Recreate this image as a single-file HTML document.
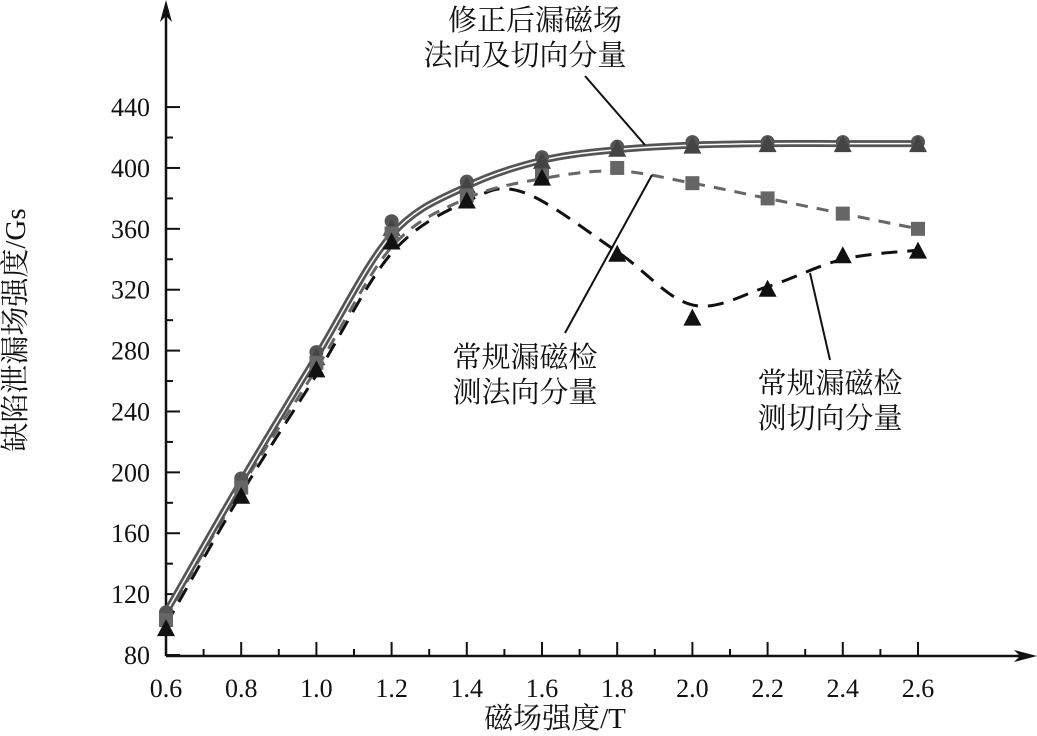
<!DOCTYPE html>
<html><head><meta charset="utf-8"><style>
html,body{margin:0;padding:0;background:#fff;}
svg{display:block;font-family:"Liberation Serif","Noto Serif CJK SC",serif;}
</style></head><body>
<svg id="s" width="1037" height="736" viewBox="0 0 1037 736">
<g stroke="#111" stroke-width="2.5" fill="none">
<line x1="166" y1="656" x2="166" y2="8"/>
<line x1="166" y1="656" x2="1028" y2="656"/>
</g>
<polygon points="166,0 160,22 166,16 172,22" fill="#111"/>
<polygon points="1037,656 1014,650 1020,656 1014,662" fill="#111"/>
<g id="ticks" stroke="#111" stroke-width="2"></g>
<g font-size="26" fill="#111" text-anchor="end" id="ylab"></g>
<g font-size="26" fill="#111" text-anchor="middle" id="xlab"></g>
<g id="series"></g>
<g stroke="#111" stroke-width="2">
<line x1="585" y1="76" x2="645" y2="145"/>
<line x1="565" y1="333" x2="652" y2="175"/>
<line x1="830" y1="360" x2="810" y2="273"/>
</g>
<g font-size="29" fill="#111" text-anchor="middle">
<text x="535" y="30">修正后漏磁场</text>
<text x="525" y="65">法向及切向分量</text>
<text x="525" y="367">常规漏磁检</text>
<text x="525" y="402">测法向分量</text>
<text x="830" y="393">常规漏磁检</text>
<text x="830" y="428">测切向分量</text>
<text x="555" y="728">磁场强度/T</text>
<text transform="translate(25,330) rotate(-90)">缺陷泄漏场强度/Gs</text>
</g>
</svg>
<script>
const NS="http://www.w3.org/2000/svg";
const X=x=>166+(x-0.6)/0.2*75.2, Y=y=>655-(y-80)*1.522;
function el(p,t,a,txt){const e=document.createElementNS(NS,t);for(const k in a)e.setAttribute(k,a[k]);if(txt)e.textContent=txt;document.getElementById(p).appendChild(e);return e;}
for(let v=80;v<=440;v+=20){const y=Y(v);el("ticks","line",{x1:166,y1:y,x2:v%40==0?180:173,y2:y});if(v%40==0)el("ylab","text",{x:150,y:y+9},String(v));}
for(let i=0;i<=20;i++){const xv=0.6+i*0.1,x=X(xv);if(i>0)el("ticks","line",{x1:x,y1:656,x2:x,y2:i%2==0?642:649});if(i%2==0)el("xlab","text",{x:x,y:697},xv.toFixed(1));}
function path(pts){const P=pts.map(p=>[X(p[0]),Y(p[1])]);let d="M"+P[0];for(let i=0;i<P.length-1;i++){const p0=P[i-1]||P[i],p1=P[i],p2=P[i+1],p3=P[i+2]||p2;const c1=[p1[0]+(p2[0]-p0[0])/6,p1[1]+(p2[1]-p0[1])/6],c2=[p2[0]-(p3[0]-p1[0])/6,p2[1]-(p3[1]-p1[1])/6];d+=" C"+c1+" "+c2+" "+p2;}return d;}
const g="series";
el(g,"path",{d:path([[0.6,100],[0.8,186],[1.0,264],[1.2,344],[1.4,378],[1.55,384],[1.8,345],[2.0,310],[2.2,322],[2.4,340],[2.6,346]]),stroke:"#111","stroke-width":3,fill:"none","stroke-dasharray":"16 10"});
el(g,"path",{d:path([[0.6,104],[0.8,190],[1.0,268],[1.2,348],[1.4,380],[1.6,393],[1.8,398],[2.0,390],[2.2,380],[2.4,370],[2.6,360]]),stroke:"#666","stroke-width":3,fill:"none","stroke-dasharray":"12 9"});
const sol=[[0.6,108],[0.8,194],[1.0,276],[1.2,356],[1.4,388],[1.6,405],[1.8,412],[2.0,415],[2.2,416],[2.4,416],[2.6,416]];
el(g,"path",{d:path(sol),stroke:"#555","stroke-width":7,fill:"none"});
el(g,"path",{d:path(sol),stroke:"#fff","stroke-width":1.5,fill:"none"});
const circ=[[0.6,108],[0.8,196],[1.0,279],[1.2,365],[1.4,391],[1.6,407],[1.8,414],[2.0,417],[2.2,417],[2.4,417],[2.6,417]];
circ.forEach(p=>el(g,"circle",{cx:X(p[0]),cy:Y(p[1]),r:7,fill:"#555"}));
const tri=(x,y,c)=>el(g,"polygon",{points:`${x},${y-10} ${x-9},${y+7} ${x+9},${y+7}`,fill:c});
[[1.6,404],[1.8,412],[2.0,414],[2.2,415],[2.4,415],[2.6,415],[1.4,388],[1.2,360],[1.0,275]].forEach(p=>tri(X(p[0]),Y(p[1]),"#444"));
[[0.6,103],[0.8,190],[1.0,272],[1.2,357],[1.4,382],[1.6,395],[1.8,400],[2.0,390],[2.2,380],[2.4,370],[2.6,360]].forEach(p=>el(g,"rect",{x:X(p[0])-7,y:Y(p[1])-7,width:14,height:14,fill:"#666"}));
[[0.6,97],[0.8,184],[1.0,267],[1.2,351],[1.4,378],[1.6,393],[1.8,343],[2.0,301],[2.2,320],[2.4,342],[2.6,345]].forEach(p=>tri(X(p[0]),Y(p[1]),"#111"));
</script>
</body></html>
